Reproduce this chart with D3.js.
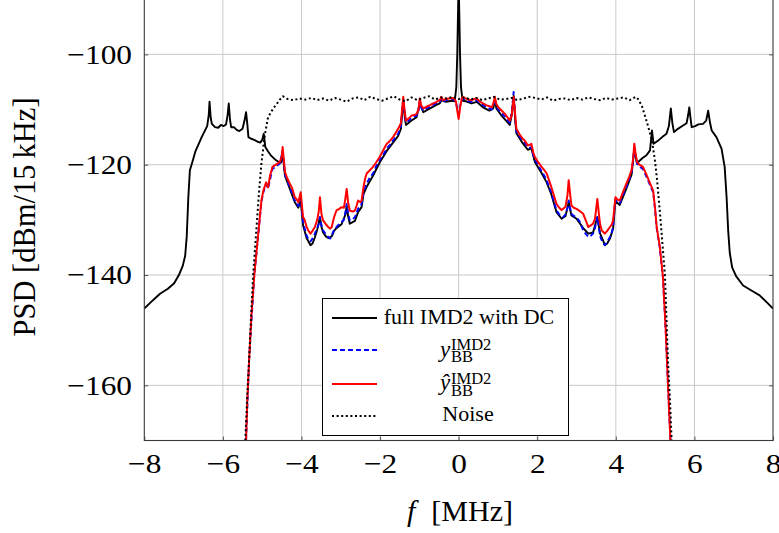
<!DOCTYPE html>
<html>
<head>
<meta charset="utf-8">
<script src="https://cdn.jsdelivr.net/npm/d3@7"></script>
<style>
  body { margin: 0; background: #fff; }
  svg text { font-family: "Liberation Serif", "Times New Roman", serif; fill: #000; }
</style>
</head>
<body>
<div id="chart"></div>
<script>
// PSD of IMD2 products
const xTicks = [-8, -6, -4, -2, 0, 2, 4, 6, 8];
const yTicks = [-160, -140, -120, -100];

// full IMD2 with DC (black)
const fullIMD2 = [
  [-8,-146.1],[-7.8,-144.7],[-7.6,-143.4],[-7.4,-142.5],[-7.24,-141.5],[-7.12,-140],[-7.02,-138.3],[-6.96,-136.5],
  [-6.92,-133],[-6.88,-126],[-6.84,-121],[-6.78,-119.6],[-6.7,-117.6],[-6.62,-116.3],[-6.54,-115],[-6.47,-114],
  [-6.4,-113],[-6.36,-111],[-6.34,-108.6],[-6.31,-111.5],[-6.28,-112.6],[-6.2,-113.2],[-6.12,-113.3],[-6.05,-112.8],
  [-5.98,-113],[-5.92,-112.7],[-5.88,-111],[-5.85,-108.9],[-5.82,-111.8],[-5.79,-113.2],[-5.72,-113.2],[-5.65,-113.7],
  [-5.58,-113.9],[-5.5,-113.5],[-5.45,-112],[-5.41,-110.5],[-5.38,-112.5],[-5.35,-115],[-5.28,-115.3],[-5.2,-115.5],
  [-5.13,-115.8],[-5.05,-116],[-5.0,-115.5],[-4.96,-114.4],[-4.92,-116.8],[-4.85,-117.6],[-4.78,-118.3],[-4.68,-119],
  [-4.58,-119.5],[-4.52,-119.6],[-4.48,-117.8],[-4.42,-122],[-4.3,-124.3],[-4.17,-126.8],[-4.08,-127.8],[-4.02,-126.5],
  [-3.96,-131],[-3.87,-133.3],[-3.77,-134.6],[-3.72,-134.3],[-3.66,-133.2],[-3.6,-131.8],[-3.53,-129.5],[-3.49,-131.3],
  [-3.45,-132.3],[-3.38,-133],[-3.32,-133.3],[-3.23,-133],[-3.17,-132],[-3.11,-131.5],[-2.98,-130.8],[-2.88,-129],
  [-2.85,-127.5],[-2.81,-129.5],[-2.77,-130.7],[-2.64,-130.2],[-2.56,-128.6],[-2.47,-127.7],[-2.42,-125.3],[-2.34,-124],
  [-2.18,-122],[-2.01,-119.6],[-1.83,-117.5],[-1.67,-116],[-1.54,-114.8],[-1.47,-113.5],[-1.41,-108.3],[-1.37,-111.5],
  [-1.34,-112.8],[-1.2,-112],[-1.07,-111.4],[-0.99,-108.7],[-0.9,-110.5],[-0.73,-109.8],[-0.58,-109.2],[-0.48,-108.9],
  [-0.44,-108.3],[-0.32,-108.6],[-0.18,-108.4],[-0.1,-108.5],[-0.06,-106],[-0.035,-100],[-0.015,-92],[0,-86],
  [0.015,-92],[0.035,-100],[0.06,-106],[0.1,-108.4],[0.18,-108.5],[0.33,-108.9],[0.46,-108.6],[0.62,-109.6],
  [0.78,-110.2],[0.88,-109.8],[0.92,-108.3],[0.96,-109.8],[1.08,-111],[1.24,-112.3],[1.3,-112.8],[1.35,-111],
  [1.4,-107.5],[1.44,-112],[1.47,-114.3],[1.62,-116],[1.76,-117.3],[1.85,-117],[1.94,-119.5],[2.11,-121.5],
  [2.24,-123.2],[2.36,-125.4],[2.49,-128.6],[2.62,-129.8],[2.72,-129.3],[2.8,-126.8],[2.87,-129.2],[3.0,-129.8],
  [3.17,-131.5],[3.3,-132.5],[3.42,-132.3],[3.53,-129.5],[3.6,-132.5],[3.68,-133.8],[3.72,-134.6],[3.78,-134.3],
  [3.85,-133.4],[3.93,-131.6],[3.99,-126.6],[4.1,-127.3],[4.27,-124.3],[4.4,-121.8],[4.47,-117.2],[4.54,-119.8],
  [4.57,-119.5],[4.68,-118.8],[4.78,-118.3],[4.87,-117.4],[4.92,-113.8],[4.96,-116.2],[5.08,-115.6],[5.18,-115],
  [5.29,-114.4],[5.35,-113],[5.4,-109.8],[5.44,-112.5],[5.48,-114.1],[5.58,-113.5],[5.71,-112.9],[5.8,-112.5],
  [5.84,-111],[5.87,-109.6],[5.9,-111.5],[5.93,-113.2],[6.02,-113],[6.1,-112.7],[6.22,-112.6],[6.3,-112],
  [6.35,-110.2],[6.4,-112.5],[6.44,-113.8],[6.56,-115],[6.69,-117.1],[6.77,-120.4],[6.82,-126],[6.86,-132],
  [6.9,-136],[6.96,-138.6],[7.06,-140.2],[7.24,-141.9],[7.45,-142.8],[7.66,-143.7],[7.85,-145],[8,-146.1]
];

// y_BB^IMD2 (blue dashed)
const yBB = [
  [-5.41,-170],[-5.33,-155],[-5.2,-140],[-5.08,-131.2],[-5.02,-126.8],[-4.97,-125],[-4.9,-123.5],[-4.85,-124.3],
  [-4.74,-120.8],[-4.55,-119.8],[-4.48,-117.5],[-4.42,-121.8],[-4.3,-124],[-4.17,-126.5],[-4.08,-127.5],[-4.02,-126],
  [-3.96,-130.5],[-3.87,-132.8],[-3.82,-133.6],[-3.77,-133.9],[-3.72,-133.4],[-3.66,-132.5],[-3.6,-131.5],[-3.56,-130.8],
  [-3.53,-129.5],[-3.49,-131],[-3.45,-131.9],[-3.38,-132.6],[-3.32,-133.1],[-3.27,-133.4],[-3.23,-132.8],[-3.17,-131.8],
  [-3.11,-131.3],[-3.04,-130.8],[-2.98,-130.4],[-2.92,-130],[-2.88,-128.5],[-2.85,-127.1],[-2.81,-129],[-2.77,-130.1],
  [-2.7,-129.9],[-2.64,-129.5],[-2.6,-128.8],[-2.56,-128],[-2.5,-127.6],[-2.47,-127.1],[-2.42,-125],[-2.34,-123.4],
  [-2.26,-122.3],[-2.18,-121.6],[-2.1,-120.3],[-2.01,-119.2],[-1.92,-118.2],[-1.83,-117.1],[-1.75,-116.4],[-1.67,-115.6],
  [-1.6,-115],[-1.54,-114.4],[-1.47,-113],[-1.41,-108],[-1.37,-111],[-1.34,-112.4],[-1.27,-112],[-1.2,-111.5],
  [-1.13,-111.3],[-1.07,-111.1],[-1.02,-110.4],[-0.99,-108.4],[-0.95,-109.7],[-0.9,-110.2],[-0.82,-109.8],[-0.73,-109.5],
  [-0.65,-109.2],[-0.58,-108.9],[-0.52,-108.6],[-0.48,-108.6],[-0.44,-108],[-0.4,-108.6],[-0.32,-108.3],[-0.25,-108.2],
  [-0.18,-108.1],[-0.12,-108.2],[-0.07,-108.7],[-0.04,-109.6],[0,-110.8],[0.04,-109.3],[0.08,-108.2],[0.11,-108],
  [0.18,-108.2],[0.25,-108.5],[0.33,-108.6],[0.4,-108.4],[0.46,-108.3],[0.53,-108.8],[0.62,-109.2],[0.7,-109.6],
  [0.78,-109.8],[0.84,-110],[0.88,-109.4],[0.92,-108],[0.96,-109.4],[1.01,-110],[1.08,-110.6],[1.18,-111.3],
  [1.24,-111.9],[1.3,-112.4],[1.35,-110.5],[1.4,-106.8],[1.44,-111.5],[1.47,-114],[1.55,-114.9],[1.62,-115.6],
  [1.68,-116],[1.76,-116.9],[1.82,-116.9],[1.85,-116.8],[1.9,-118.3],[1.94,-119.1],[2.02,-120],[2.11,-121.2],
  [2.18,-122],[2.24,-122.8],[2.3,-124],[2.36,-125],[2.42,-126.6],[2.49,-128.3],[2.56,-129],[2.62,-129.4],
  [2.66,-129.5],[2.72,-129],[2.77,-127.8],[2.8,-126.5],[2.84,-128],[2.87,-128.9],[2.93,-129.3],[3.0,-129.5],
  [3.08,-130.3],[3.17,-131.9],[3.23,-132.5],[3.3,-133.1],[3.36,-132.9],[3.42,-132.5],[3.47,-131.5],[3.5,-130.5],
  [3.53,-129.5],[3.57,-131.5],[3.6,-133],[3.64,-133.7],[3.68,-134.2],[3.72,-134.6],[3.78,-134],[3.85,-133.1],
  [3.9,-132.2],[3.93,-131.3],[3.96,-128.5],[3.99,-126.3],[4.04,-126.8],[4.1,-127],[4.18,-125.5],[4.27,-124],
  [4.34,-122.7],[4.4,-121.5],[4.44,-119.5],[4.47,-116.8],[4.5,-118.3],[4.54,-119.8],[4.6,-120.3],[4.69,-120.8],
  [4.78,-122.2],[4.86,-123.5],[4.95,-125],[5.0,-128.2],[5.04,-131.5],[5.12,-135.1],[5.2,-140.6],[5.27,-150.2],
  [5.33,-160.5],[5.39,-170]
];

// y-hat_BB^IMD2 (red)
const yHatBB = [
  [-5.41,-170],[-5.38,-163],[-5.33,-155],[-5.27,-147],[-5.2,-140],[-5.14,-135.5],[-5.08,-131],[-5.02,-126.5],
  [-4.97,-124.7],[-4.9,-123.2],[-4.85,-124.1],[-4.8,-122],[-4.74,-120.4],[-4.65,-120],[-4.55,-119.5],[-4.5,-118.5],
  [-4.48,-116.8],[-4.45,-119],[-4.42,-121.3],[-4.36,-122.5],[-4.3,-123.4],[-4.24,-124.2],[-4.17,-125.9],[-4.12,-126.3],
  [-4.08,-126.8],[-4.02,-125],[-3.96,-129.5],[-3.92,-130],[-3.87,-131.3],[-3.82,-132],[-3.77,-132.5],[-3.72,-132],
  [-3.66,-131.3],[-3.6,-130],[-3.56,-128.5],[-3.53,-125.9],[-3.49,-129],[-3.45,-130.1],[-3.38,-130.8],[-3.32,-131.3],
  [-3.27,-131.6],[-3.23,-131.3],[-3.17,-129.5],[-3.11,-128.3],[-3.04,-128],[-2.98,-127.7],[-2.92,-127.8],[-2.88,-126],
  [-2.85,-124.4],[-2.81,-127],[-2.77,-128.3],[-2.7,-128.5],[-2.64,-128.3],[-2.6,-127.5],[-2.56,-126.5],[-2.5,-126.8],
  [-2.47,-126.5],[-2.42,-124],[-2.38,-122.5],[-2.34,-121.6],[-2.26,-121],[-2.18,-120.4],[-2.1,-119.6],[-2.01,-118.6],
  [-1.92,-117.4],[-1.83,-116.2],[-1.75,-115.7],[-1.67,-115],[-1.6,-114.2],[-1.54,-113.5],[-1.47,-112.5],[-1.41,-107.7],
  [-1.37,-110.5],[-1.34,-112],[-1.27,-111.6],[-1.2,-111.1],[-1.13,-111],[-1.07,-110.8],[-1.02,-110],[-0.99,-108],
  [-0.95,-109.3],[-0.9,-109.8],[-0.82,-109.5],[-0.73,-109.2],[-0.65,-108.9],[-0.58,-108.7],[-0.52,-108.4],[-0.48,-108.3],
  [-0.44,-107.7],[-0.4,-108.3],[-0.32,-108.1],[-0.25,-108],[-0.18,-107.9],[-0.12,-108],[-0.07,-108.5],[-0.04,-110],
  [0,-111.7],[0.04,-109.5],[0.08,-108],[0.11,-107.7],[0.18,-108],[0.25,-108.2],[0.33,-108.3],[0.4,-108.1],
  [0.46,-108],[0.53,-108.5],[0.62,-108.9],[0.7,-109.2],[0.78,-109.4],[0.84,-109.6],[0.88,-109],[0.92,-107.7],
  [0.96,-109],[1.01,-109.6],[1.08,-110.1],[1.18,-110.8],[1.24,-111.4],[1.3,-112],[1.35,-111],[1.4,-107.7],
  [1.44,-111],[1.47,-113.5],[1.55,-114.5],[1.62,-115.2],[1.68,-115.6],[1.76,-116.5],[1.82,-116.4],[1.85,-116.2],
  [1.9,-117.8],[1.94,-118.6],[2.02,-119.5],[2.11,-120.4],[2.18,-121],[2.24,-121.6],[2.3,-122.8],[2.36,-124.1],
  [2.42,-125.5],[2.49,-127.1],[2.56,-127.8],[2.62,-128.2],[2.66,-128],[2.72,-127.6],[2.77,-125.5],[2.8,-122.8],
  [2.84,-125.5],[2.87,-127.4],[2.93,-127.8],[3.0,-128],[3.08,-128.4],[3.17,-128.9],[3.23,-130],[3.3,-131.3],
  [3.36,-131],[3.42,-130.7],[3.47,-129.8],[3.5,-128],[3.53,-126.2],[3.57,-129],[3.6,-130.8],[3.64,-131.9],
  [3.68,-132.2],[3.72,-132.5],[3.78,-132],[3.85,-131.3],[3.9,-130.8],[3.93,-130.1],[3.96,-128],[3.99,-125.9],
  [4.04,-126.3],[4.1,-126.5],[4.18,-125],[4.27,-123.4],[4.34,-122.2],[4.4,-121],[4.44,-119],[4.47,-116.2],
  [4.5,-117.8],[4.54,-119.5],[4.6,-120],[4.69,-120.4],[4.78,-121.8],[4.86,-123.2],[4.95,-124.7],[5.0,-128],
  [5.04,-131.3],[5.12,-134.9],[5.2,-140.4],[5.27,-150],[5.33,-160.3],[5.39,-170]
];

// Noise (black dotted)
const noise = [
  [-5.43,-170],[-5.38,-162],[-5.33,-155],[-5.28,-147],[-5.23,-140],[-5.18,-135],[-5.14,-131],[-5.08,-125],
  [-5.02,-119.8],[-4.93,-114.5],[-4.85,-111.4],[-4.72,-109.8],[-4.63,-109],[-4.55,-108.2],[-4.47,-107.6],[-4.35,-108.1],
  [-4.2,-108.3],[-4.05,-108],[-3.9,-108.2],[-3.75,-107.9],[-3.6,-108.3],[-3.45,-108],[-3.3,-108.4],[-3.15,-107.9],
  [-3.0,-108.2],[-2.85,-108.6],[-2.7,-108],[-2.55,-107.8],[-2.4,-108.3],[-2.25,-107.7],[-2.1,-108.1],[-1.95,-108.4],
  [-1.8,-108],[-1.65,-107.6],[-1.5,-108.2],[-1.35,-108.5],[-1.2,-107.8],[-1.05,-108.3],[-0.9,-107.9],[-0.75,-107.6],
  [-0.6,-108.2],[-0.45,-107.8],[-0.3,-108],[-0.15,-107.7],[0,-108.1],[0.15,-107.8],[0.3,-108.2],[0.45,-107.9],
  [0.6,-108.3],[0.75,-108],[0.9,-107.7],[1.05,-108.2],[1.2,-108.1],[1.35,-107.9],[1.5,-108.3],[1.65,-108],
  [1.8,-107.7],[1.95,-107.9],[2.1,-108.2],[2.25,-107.8],[2.4,-108.4],[2.55,-108.1],[2.7,-108],[2.85,-108.3],
  [3.0,-107.9],[3.15,-108.2],[3.3,-107.8],[3.45,-108.1],[3.6,-108.3],[3.75,-107.9],[3.9,-108.2],[4.05,-108],
  [4.2,-107.8],[4.35,-108.3],[4.5,-107.7],[4.58,-108.2],[4.67,-109.5],[4.8,-112.5],[4.92,-115.6],[5.0,-119.5],
  [5.05,-122.8],[5.12,-128.5],[5.16,-132],[5.25,-140],[5.29,-148],[5.33,-156],[5.38,-163],[5.42,-170]
];

const W = 779, H = 533;
const plot = { left: 144.3, right: 773, top: -0.8, bottom: 440.5 };

const svg = d3.select('#chart').append('svg')
  .attr('width', W).attr('height', H)
  .attr('viewBox', `0 0 ${W} ${H}`);

const x = d3.scaleLinear().domain([-8, 8]).range([plot.left, plot.right]);
const y = d3.scaleLinear().domain([-170, -90]).range([plot.bottom, plot.top]);

svg.append('defs').append('clipPath').attr('id', 'clip')
  .append('rect')
  .attr('x', plot.left).attr('y', plot.top)
  .attr('width', plot.right - plot.left).attr('height', plot.bottom - plot.top);

// grid
const grid = svg.append('g');
grid.selectAll('.gx').data(xTicks.slice(1, -1)).enter().append('line')
  .attr('x1', d => x(d)).attr('x2', d => x(d))
  .attr('y1', plot.top).attr('y2', plot.bottom)
  .attr('stroke', '#c9c9c9').attr('stroke-width', 1);
grid.selectAll('.gy').data(yTicks).enter().append('line')
  .attr('x1', plot.left).attr('x2', plot.right)
  .attr('y1', d => y(d)).attr('y2', d => y(d))
  .attr('stroke', '#c9c9c9').attr('stroke-width', 1);

// curves
const line = d3.line().x(d => x(d[0])).y(d => y(d[1]));
const curves = svg.append('g').attr('clip-path', 'url(#clip)');

const series = [
  { data: fullIMD2, color: '#000', width: 1.9, dash: null },
  { data: yBB, color: '#0000ff', width: 1.9, dash: '5,3' },
  { data: yHatBB, color: '#ff0000', width: 2.0, dash: null },
  { data: noise, color: '#000', width: 2.0, dash: '2,2.6' }
];
series.forEach(s => {
  curves.append('path')
    .datum(s.data)
    .attr('d', line)
    .attr('fill', 'none')
    .attr('stroke', s.color)
    .attr('stroke-width', s.width)
    .attr('stroke-linejoin', 'round')
    .attr('stroke-dasharray', s.dash);
});

// axes (ticks pointing inward, like pgfplots)
const tickFmt = d => d < 0 ? '\u2212' + Math.abs(d) : String(d);

const gx = svg.append('g')
  .attr('transform', `translate(0,${plot.bottom})`)
  .call(d3.axisBottom(x).tickValues(xTicks).tickSize(-4).tickPadding(13).tickFormat(tickFmt));
const gy = svg.append('g')
  .attr('transform', `translate(${plot.left},0)`)
  .call(d3.axisLeft(y).tickValues(yTicks).tickSize(-4).tickPadding(11).tickFormat(tickFmt));
svg.append('g')
  .attr('transform', `translate(${plot.right},0)`)
  .call(d3.axisRight(y).tickValues(yTicks).tickSize(-4).tickFormat(''))
  .call(g => g.select('.domain').remove());

[gx, gy].forEach(g => {
  g.select('.domain').remove();
  g.selectAll('text')
    .style('font-size', '28px')
    .attr('transform', 'scale(1.12,1)');
});
svg.selectAll('.tick line').attr('stroke', '#555');
gx.selectAll('text').attr('dy', '0.71em');

// frame
svg.append('rect')
  .attr('x', plot.left).attr('y', plot.top)
  .attr('width', plot.right - plot.left).attr('height', plot.bottom - plot.top)
  .attr('fill', 'none').attr('stroke', '#3a3a3a').attr('stroke-width', 1.1);

// axis labels
const xl = svg.append('text')
  .attr('x', 460).attr('y', 521)
  .attr('text-anchor', 'middle')
  .style('font-size', '30px');
xl.append('tspan').style('font-style', 'italic').text('f');
xl.append('tspan').attr('dx', 16).text('[MHz]');

svg.append('text')
  .attr('transform', 'translate(35,217) rotate(-90)')
  .attr('text-anchor', 'middle')
  .style('font-size', '30.5px')
  .text('PSD [dBm/15\u2009kHz]');

// legend
const leg = svg.append('g');
leg.append('rect')
  .attr('x', 322.5).attr('y', 298.5).attr('width', 246).attr('height', 137)
  .attr('fill', '#fff').attr('stroke', '#000').attr('stroke-width', 1);

const legRows = [318, 350, 384, 416];
series.forEach((s, i) => {
  leg.append('line')
    .attr('x1', 332).attr('x2', 377)
    .attr('y1', legRows[i]).attr('y2', legRows[i])
    .attr('stroke', s.color).attr('stroke-width', s.width)
    .attr('stroke-dasharray', s.dash);
});

leg.append('text').attr('x', 469).attr('y', 324).attr('text-anchor', 'middle')
  .style('font-size', '22px').text('full IMD2 with DC');

// symbol with stacked superscript / subscript, kept in one text element
function mathLabel(g, yBase, sym) {
  const t = g.append('text').attr('x', 440).attr('y', yBase);
  t.append('tspan').style('font-size', '23px').style('font-style', 'italic').text(sym);
  t.append('tspan').attr('x', 451).attr('y', yBase - 6.5)
    .style('font-size', '16.5px').text('IMD2');
  t.append('tspan').attr('x', 451).attr('y', yBase + 5.5)
    .style('font-size', '16.5px').text('BB');
}
mathLabel(leg, 356.5, 'y');
mathLabel(leg, 390, '\u0177');

leg.append('text').attr('x', 468).attr('y', 421).attr('text-anchor', 'middle')
  .style('font-size', '22px').text('Noise');
</script>
</body>
</html>
